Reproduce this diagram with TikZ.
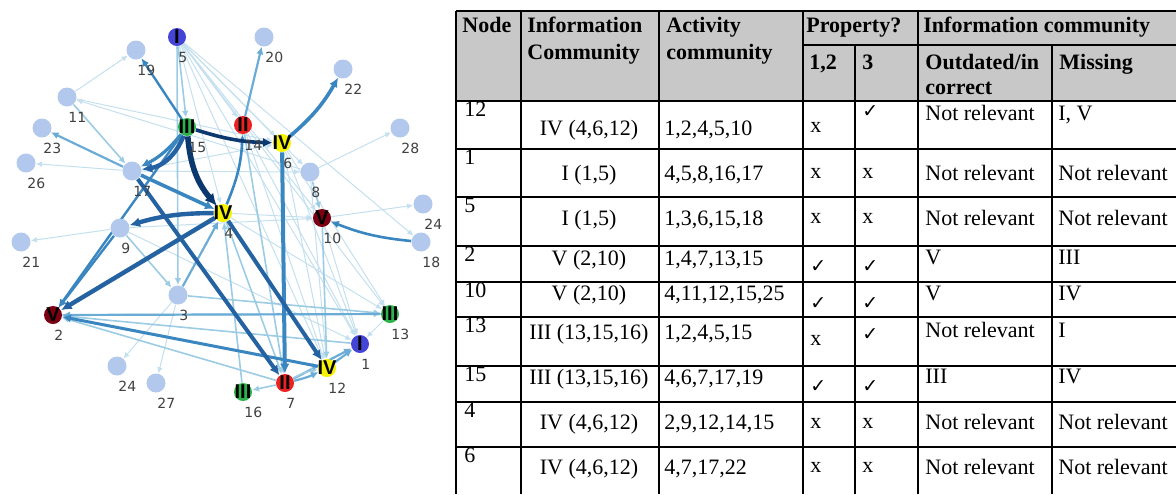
\documentclass[tikz,border=0pt]{standalone}
\usepackage{fontspec}
\setmainfont{Liberation Serif}
\newfontfamily\numfont{DejaVu Sans}
\newfontfamily\romfont{Liberation Sans}
\newfontfamily\symfont{DejaVu Sans}
\usetikzlibrary{arrows.meta,backgrounds}
\definecolor{nodeblue}{RGB}{178,200,236}
\definecolor{cI}{RGB}{68,68,214}
\definecolor{cII}{RGB}{236,34,34}
\definecolor{cIII}{RGB}{46,178,78}
\definecolor{cIV}{RGB}{244,242,0}
\definecolor{cV}{RGB}{124,0,18}
\definecolor{numgray}{RGB}{64,64,64}
\definecolor{ecA}{RGB}{196,224,238}
\definecolor{ecB}{RGB}{156,204,228}
\definecolor{ecC}{RGB}{106,172,214}
\definecolor{ecD}{RGB}{58,134,192}
\definecolor{ecE}{RGB}{36,98,162}
\definecolor{ecF}{RGB}{12,56,112}
\definecolor{hdgray}{RGB}{200,200,200}
\newcommand{\tabfont}{\fontsize{11}{13}\selectfont}
\newcommand{\ck}{{\symfont\fontsize{9.5}{11}\selectfont ✓}}

\begin{document}
\begin{tikzpicture}[x=0.5pt,y=-0.5pt,>={Latex[length=2.4pt 1.3,width=2.2pt 1.3]},
  plain/.style={circle,fill=nodeblue,minimum size=9.5pt,inner sep=0pt},
  comm/.style={circle,fill=#1,minimum size=9pt,inner sep=0pt},
  rom/.style={font={\romfont\bfseries\fontsize{10}{10}\selectfont},inner sep=0pt},
  num/.style={font={\numfont\fontsize{7}{8}\selectfont},text=numgray,anchor=west,inner sep=0pt},
  e1/.style={->,draw=ecA,line width=0.5pt},
  e2/.style={->,draw=ecB,line width=0.8pt},
  e3/.style={->,draw=ecC,line width=1.1pt},
  e4/.style={->,draw=ecD,line width=1.5pt},
  e5/.style={->,draw=ecE,line width=2pt},
  e6/.style={->,draw=ecF,line width=2.8pt},
  cell/.style={anchor=base west,inner sep=0pt,font=\tabfont},
  cellc/.style={anchor=base,inner sep=0pt,font=\tabfont},
  hd/.style={anchor=base west,inner sep=0pt,font={\tabfont\bfseries}},
  thin/.style={line width=0.7pt},
  thick/.style={line width=1.1pt}]
\useasboundingbox (0,0) rectangle (1176,494);

% network
\node[comm=cI,label={[rom]center:I}] (n1) at (360,344) {};
\node[comm=cV,label={[rom]center:V}] (n2) at (53,315) {};
\node[plain] (n3) at (178,295) {};
\node[comm=cIV,label={[rom]center:IV}] (n4) at (223,213) {};
\node[comm=cI,label={[rom]center:I}] (n5) at (177,37) {};
\node[comm=cIV,label={[rom]center:IV}] (n6) at (282,143) {};
\node[comm=cII,label={[rom]center:II}] (n7) at (285,383) {};
\node[plain] (n8) at (310,172) {};
\node[plain] (n9) at (120,228) {};
\node[comm=cV,label={[rom]center:V}] (n10) at (322,218) {};
\node[plain] (n11) at (67,97) {};
\node[comm=cIV,label={[rom]center:IV}] (n12) at (327,368) {};
\node[comm=cIII,label={[rom]center:III}] (n13) at (390,314) {};
\node[comm=cII,label={[rom]center:II}] (n14) at (243,125) {};
\node[comm=cIII,label={[rom]center:III}] (n15) at (187,127) {};
\node[comm=cIII,label={[rom]center:III}] (n16) at (243,392) {};
\node[plain] (n17) at (132,171) {};
\node[plain] (n18) at (421,242) {};
\node[plain] (n19) at (136,50) {};
\node[plain] (n20) at (264,37) {};
\node[plain] (n21) at (21,242) {};
\node[plain] (n22) at (343,69) {};
\node[plain] (n23) at (42,128) {};
\node[plain] (n24) at (423,204) {};
\node[plain] (n24b) at (117,366) {};
\node[plain] (n26) at (26,163) {};
\node[plain] (n27) at (156,383) {};
\node[plain] (n28) at (400,128) {};
\foreach \n/\t in {1/1,2/2,3/3,4/4,5/5,6/6,7/7,8/8,9/9,10/10,11/11,12/12,13/13,14/14,15/15,16/16,17/17,18/18,19/19,20/20,21/21,22/22,23/23,24/24,24b/24,26/26,27/27,28/28}
  \node[num] (l\n) at ([shift={(1,20)}]n\n.center) {\t};

\begin{scope}[on background layer]
\foreach \a/\b in {5/6,5/8,5/10,5/13,5/1,5/12,5/18,5/14,5/4,8/28,10/24,9/21,3/24b,3/27,17/26,8/11,11/19,13/1,6/13,6/1,6/12,14/12,14/1,17/8,17/6,9/10,9/1,4/10,10/1,8/12,4/13,2/12,11/6}
  \draw[e1] (n\a) -- (n\b);
\foreach \a/\b in {5/3,5/15,11/17,10/12,3/13,8/10,4/7,1/2,7/2,2/13,7/16,9/3,16/4,14/7}
  \draw[e2] (n\a) -- (n\b);
\foreach \a/\b in {13/2,3/4,17/23,7/1,12/1,14/20}
  \draw[e3] (n\a) -- (n\b);
\draw[e2] (n7) to[bend left=10] (n12);
\draw[e3] (n7) to[bend right=6] (n12);
\draw[e4,line width=1.2pt] (n9) -- (n2);
\draw[e4,line width=1.2pt] (n15) -- (n2);
\draw[e4,line width=1.2pt] (n15) -- (n19);
\draw[e4,line width=1.3pt] (n18) to[bend left=8] (n10);
\draw[e4] (n12) -- (n2);
\draw[e4,line width=1.3pt] (n4) to[bend right=10] (n14);
\draw[e4,line width=2pt] (n6) -- (n7);
\draw[e4,line width=1.8pt] (n17) -- (n4);
\draw[e4,line width=1.8pt] (n6) to[bend right=10] (n22);
\draw[e5] (n17) -- (n7);
\draw[e5] (n4) -- (n12);
\draw[e5,line width=2.2pt] (n4) to[bend right=8] (n9);
\draw[e5,line width=2.2pt] (n4) -- (n2);
\draw[e5,line width=2.2pt] (n15) to[bend left=30] (n17);
\draw[e4,line width=1.6pt] (n15) to[bend left=12] (n17);
\draw[e6] (n15) to[bend right=18] (n4);
\draw[e6,line width=1.8pt] (n15) to[bend right=8] (n6);
\end{scope}

% table
\fill[hdgray] (456,11) rectangle (1176,101);
\draw[thick] (456,11) -- (1176,11);
\draw[thin] (803,45) -- (1176,45);
\draw[thick] (456,101) -- (1176,101);
\foreach \y in {149,197,246,282,317,366,402,447}
  \draw[thin] (456,\y) -- (1176,\y);
\draw[thick] (456,11) -- (456,494);
\foreach \x in {521,659}
  \draw[thin] (\x,11) -- (\x,494);
\foreach \x in {803,918}
  \draw[thick] (\x,11) -- (\x,494);
\draw[thin] (855,45) -- (855,494);
\draw[thin] (1052,45) -- (1052,494);

\node[hd] (hNode) at (462,32) {Node};
\node[hd] (hInfo) at (527,32) {Information};
\node[hd] (hInfoB) at (527,59) {Community};
\node[hd] (hAct) at (666,32) {Activity};
\node[hd] (hActB) at (666,59) {community};
\node[hd] (hProp) at (806,32) {Property?};
\node[hd] (hIC) at (923,32) {Information community};
\node[hd] (hPa) at (809,69) {1,2};
\node[hd] (hPb) at (862,69) {3};
\node[hd] (hOut) at (925,69) {Outdated/in};
\node[hd] (hOutB) at (925,94) {correct};
\node[hd] (hMis) at (1059,69) {Missing};

\foreach \nd/\ic/\ac/\pa/\pb/\od/\ms/\tp/\bl/\ob/\ba/\bb in {
  12/{IV (4,6,12)}/{1,2,4,5,10}/x/\ck/{Not relevant}/{I, V}/101/135/120/132/117,
  1/{I (1,5)}/{4,5,8,16,17}/x/x/{Not relevant}/{Not relevant}/149/180/180/178/178,
  5/{I (1,5)}/{1,3,6,15,18}/x/x/{Not relevant}/{Not relevant}/197/225/225/223/223,
  2/{V (2,10)}/{1,4,7,13,15}/\ck/\ck/V/III/246/265/264/272/272,
  10/{V (2,10)}/{4,11,12,15,25}/\ck/\ck/V/IV/282/300/300/309/309,
  13/{III (13,15,16)}/{1,2,4,5,15}/x/\ck/{Not relevant}/I/317/339/337/345/340,
  15/{III (13,15,16)}/{4,6,7,17,19}/\ck/\ck/III/IV/366/384/383/392/392,
  4/{IV (4,6,12)}/{2,9,12,14,15}/x/x/{Not relevant}/{Not relevant}/402/429/429/428/428,
  6/{IV (4,6,12)}/{4,7,17,22}/x/x/{Not relevant}/{Not relevant}/447/474/474/472/472}
{
  \node[cell] (nd\nd) at (464,\tp+15) {\nd};
  \node[cellc] (ic\nd) at (589,\bl) {\ic};
  \node[cell] (ac\nd) at (664,\bl) {\ac};
  \node[cell] (pa\nd) at (810,\ba) {\pa};
  \node[cell] (pb\nd) at (862,\bb) {\pb};
  \node[cell] (od\nd) at (925,\ob) {\od};
  \node[cell] (ms\nd) at (1058,\ob) {\ms};
}
\end{tikzpicture}
\end{document}
